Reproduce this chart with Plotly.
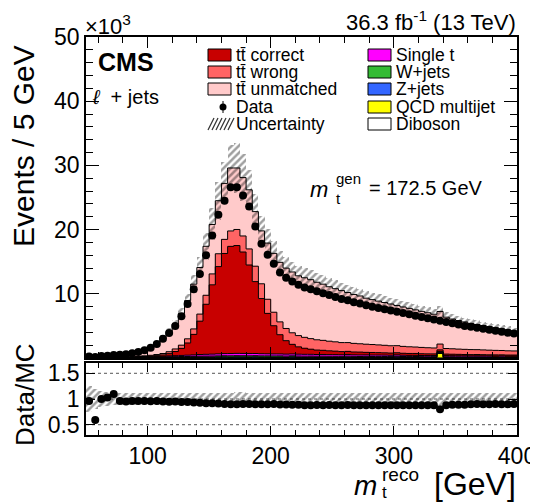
import math
import plotly.graph_objects as go

# ---------------- data (thousands of events per 5 GeV bin, 50-400 GeV) ----------------
bin_low = 50
bin_width = 5
n_bins = 70

data = [0.25, 0.16, 0.3, 0.35, 0.45, 0.5, 0.6, 0.75, 0.95, 1.2,
        1.6, 2.2, 3.0, 3.9, 5.0, 6.5, 8.4, 10.7, 13.1, 16.0,
        19.1, 22.3, 24.5, 26.6, 26.6, 25.3, 23.6, 20.5, 17.8, 16.1,
        14.7, 13.3, 12.5, 11.9, 11.4, 11.0, 10.7, 10.4, 10.1, 9.8,
        9.5, 9.2, 9.0, 8.7, 8.5, 8.2, 8.0, 7.8, 7.6, 7.4,
        7.2, 7.0, 6.8, 6.6, 6.4, 6.2, 6.0, 5.8, 5.6, 5.4,
        5.2, 5.0, 4.85, 4.7, 4.55, 4.4, 4.25, 4.1, 3.95, 3.8]

tt_correct = [0, 0, 0, 0, 0, 0, 0.01, 0.02, 0.03, 0.05,
              0.08, 0.12, 0.2, 0.35, 0.65, 1.1, 1.9, 3.2, 5.2, 7.8,
              10.8, 13.6, 15.6, 16.7, 16.8, 15.8, 13.8, 11.2, 8.6, 6.3,
              4.4, 3.0, 2.1, 1.5, 1.15, 0.95, 0.8, 0.7, 0.65, 0.6,
              0.55, 0.5, 0.5, 0.45, 0.45, 0.4, 0.4, 0.38, 0.36, 0.35,
              0.33, 0.32, 0.3, 0.3, 0.28, 0.27, 0.26, 0.25, 0.24, 0.23,
              0.22, 0.21, 0.2, 0.2, 0.19, 0.18, 0.18, 0.17, 0.16, 0.16]

tt_wrong = [0, 0, 0, 0.01, 0.01, 0.02, 0.03, 0.05, 0.07, 0.1,
            0.13, 0.17, 0.22, 0.3, 0.4, 0.5, 0.65, 0.85, 1.1, 1.4,
            1.7, 2.0, 2.2, 2.4, 2.5, 2.5, 2.5, 2.4, 2.3, 2.2,
            2.1, 2.0, 1.9, 1.8, 1.75, 1.7, 1.65, 1.6, 1.55, 1.5,
            1.45, 1.4, 1.37, 1.34, 1.3, 1.27, 1.24, 1.2, 1.17, 1.14,
            1.1, 1.07, 1.04, 1.0, 0.98, 0.95, 0.92, 0.9, 0.87, 0.85,
            0.82, 0.8, 0.78, 0.76, 0.74, 0.72, 0.7, 0.68, 0.66, 0.64]

tt_unmatched = [0.23, 0.24, 0.26, 0.27, 0.33, 0.41, 0.49, 0.59, 0.74, 0.91,
                1.25, 1.75, 2.46, 3.13, 3.85, 4.91, 5.95, 6.97, 7.26, 7.63,
                7.7, 8.26, 8.72, 9.81, 9.58, 9.09, 9.21, 8.5, 8.24, 8.75,
                9.17, 9.27, 9.4, 9.47, 9.31, 9.28, 9.18, 8.96, 8.75, 8.48,
                8.28, 8.1, 7.8, 7.62, 7.44, 7.17, 6.99, 6.82, 6.66, 6.5,
                6.26, 6.14, 5.98, 5.79, 5.62, 5.45, 5.26, 5.08, 4.88, 4.63,
                4.45, 4.27, 4.08, 3.92, 3.8, 3.67, 3.53, 3.39, 3.27, 3.12]

single_t = [0.01, 0.01, 0.01, 0.02, 0.02, 0.03, 0.03, 0.04, 0.05, 0.06,
            0.07, 0.09, 0.11, 0.13, 0.15, 0.17, 0.2, 0.22, 0.25, 0.27,
            0.29, 0.31, 0.33, 0.35, 0.36, 0.36, 0.35, 0.34, 0.33, 0.32,
            0.31, 0.3, 0.3, 0.29, 0.28, 0.28, 0.27, 0.26, 0.26, 0.25,
            0.25, 0.24, 0.24, 0.23, 0.23, 0.22, 0.22, 0.21, 0.21, 0.2,
            0.2, 0.19, 0.19, 0.18, 0.18, 0.18, 0.17, 0.17, 0.17, 0.16,
            0.16, 0.16, 0.15, 0.15, 0.15, 0.14, 0.14, 0.14, 0.13, 0.13]

w_jets = [0.01, 0.01, 0.01, 0.02, 0.02, 0.02, 0.03, 0.03, 0.04, 0.05,
          0.06, 0.07, 0.08, 0.09, 0.1, 0.11, 0.12, 0.13, 0.14, 0.15,
          0.16, 0.17, 0.18, 0.19, 0.19, 0.19, 0.19, 0.19, 0.18, 0.18,
          0.18, 0.18, 0.17, 0.17, 0.17, 0.17, 0.16, 0.16, 0.16, 0.16,
          0.15, 0.15, 0.15, 0.15, 0.14, 0.14, 0.14, 0.14, 0.14, 0.13,
          0.13, 0.13, 0.13, 0.13, 0.12, 0.12, 0.12, 0.12, 0.12, 0.12,
          0.11, 0.11, 0.11, 0.11, 0.11, 0.11, 0.1, 0.1, 0.1, 0.1]

z_jets = [0, 0, 0, 0, 0.01, 0.01, 0.01, 0.01, 0.01, 0.02,
          0.02, 0.02, 0.02, 0.03, 0.03, 0.03, 0.03, 0.03, 0.04, 0.04,
          0.04, 0.04, 0.04, 0.04, 0.04, 0.04, 0.04, 0.04, 0.04, 0.04,
          0.04, 0.04, 0.04, 0.04, 0.04, 0.03, 0.03, 0.03, 0.03, 0.03,
          0.03, 0.03, 0.03, 0.03, 0.03, 0.03, 0.03, 0.03, 0.03, 0.03,
          0.03, 0.03, 0.03, 0.03, 0.03, 0.02, 0.02, 0.02, 0.02, 0.02,
          0.02, 0.02, 0.02, 0.02, 0.02, 0.02, 0.02, 0.02, 0.02, 0.02]

qcd = [0.01, 0.01, 0.02, 0.02, 0.02, 0.03, 0.03, 0.04, 0.04, 0.05,
       0.05, 0.06, 0.06, 0.07, 0.07, 0.08, 0.08, 0.09, 0.1, 0.1,
       0.1, 0.11, 0.12, 0.1, 0.12, 0.11, 0.1, 0.12, 0.1, 0.1,
       0.09, 0.1, 0.08, 0.12, 0.09, 0.08, 0.1, 0.08, 0.09, 0.07,
       0.08, 0.07, 0.1, 0.07, 0.06, 0.08, 0.06, 0.07, 0.06, 0.05,
       0.12, 0.06, 0.05, 0.06, 0.05, 0.05, 0.06, 0.7, 0.05, 0.05,
       0.05, 0.04, 0.04, 0.05, 0.04, 0.04, 0.04, 0.05, 0.04, 0.04]

diboson = [0, 0, 0, 0, 0, 0, 0, 0, 0.01, 0.01,
           0.01, 0.01, 0.01, 0.01, 0.01, 0.01, 0.01, 0.01, 0.01, 0.01,
           0.01, 0.01, 0.01, 0.01, 0.01, 0.01, 0.01, 0.01, 0.01, 0.01,
           0.01, 0.01, 0.01, 0.01, 0.01, 0.01, 0.01, 0.01, 0.01, 0.01,
           0.01, 0.01, 0.01, 0.01, 0.01, 0.01, 0.01, 0.01, 0.01, 0.01,
           0.01, 0.01, 0.01, 0.01, 0.01, 0.01, 0.01, 0.01, 0.01, 0.01,
           0.01, 0.01, 0.01, 0.01, 0.01, 0.01, 0.01, 0.01, 0.01, 0.01]

# relative MC uncertainty per bin
mc_unc = [0.25, 0.2, 0.15, 0.13, 0.12, 0.12, 0.12, 0.12, 0.12, 0.12,
          0.12, 0.12, 0.12, 0.12, 0.12, 0.12, 0.12, 0.12, 0.12, 0.12,
          0.12, 0.12, 0.12, 0.12, 0.13, 0.13, 0.12, 0.12, 0.12, 0.12,
          0.12, 0.12, 0.12, 0.12, 0.12, 0.12, 0.12, 0.12, 0.12, 0.12,
          0.12, 0.12, 0.12, 0.12, 0.12, 0.12, 0.12, 0.12, 0.12, 0.12,
          0.12, 0.12, 0.12, 0.12, 0.12, 0.12, 0.12, 0.12, 0.12, 0.12,
          0.12, 0.12, 0.12, 0.12, 0.12, 0.12, 0.12, 0.12, 0.12, 0.12]

x_ticks = [100, 200, 300, 400]
y_ticks = [10, 20, 30, 40, 50]
r_ticks = [0.5, 1, 1.5]

# stack order bottom -> top
stack = [
    ("Diboson", diboson, "#ffffff"),
    ("QCD multijet", qcd, "#ffff00"),
    ("Z+jets", z_jets, "#3366ff"),
    ("W+jets", w_jets, "#33bb33"),
    ("Single t", single_t, "#ff00ff"),
    ("tt\u0304 correct", tt_correct, "#c80000"),
    ("tt\u0304 wrong", tt_wrong, "#ff6464"),
    ("tt\u0304 unmatched", tt_unmatched, "#ffcaca"),
]

centers = [bin_low + bin_width * (i + 0.5) for i in range(n_bins)]
edges = [bin_low + bin_width * i for i in range(n_bins + 1)]

FONT = "Liberation Sans, Arial, Helvetica, sans-serif"
fig = go.Figure()

cum = [0.0] * n_bins
levels = []
for name, vals, col in stack:
    fig.add_trace(go.Bar(x=centers, y=vals, base=cum[:], width=bin_width,
                         marker=dict(color=col, line=dict(width=0)),
                         name=name, showlegend=False, xaxis="x", yaxis="y"))
    cum = [c + v for c, v in zip(cum, vals)]
    levels.append(cum[:])

# outlines of each histogram (step lines)
for lev in levels:
    fig.add_trace(go.Scatter(x=edges, y=lev + [lev[-1]], mode="lines",
                             line=dict(color="black", width=1, shape="hv"),
                             showlegend=False, hoverinfo="skip", xaxis="x", yaxis="y"))

mc_total = levels[-1]
pattern = dict(shape="/", fgcolor="rgba(0,0,0,1)", bgcolor="rgba(0,0,0,0)",
               size=5, solidity=0.5, fillmode="overlay")
fig.add_trace(go.Bar(x=centers, y=[2 * m * u for m, u in zip(mc_total, mc_unc)],
                     base=[m * (1 - u) for m, u in zip(mc_total, mc_unc)], width=bin_width,
                     marker=dict(color="rgba(0,0,0,0)", line=dict(width=0), pattern=pattern),
                     opacity=0.75, name="Uncertainty", showlegend=False, xaxis="x", yaxis="y"))

fig.add_trace(go.Scatter(x=centers, y=data, mode="markers",
                         marker=dict(color="black", size=8),
                         error_y=dict(type="data", array=[math.sqrt(d * 1000) / 1000 for d in data],
                                      color="black", thickness=1, width=0),
                         name="Data", showlegend=False, xaxis="x", yaxis="y"))

# ratio panel
ratio = [d / m for d, m in zip(data, mc_total)]
ratio_err = [math.sqrt(d * 1000) / (m * 1000) for d, m in zip(data, mc_total)]
fig.add_trace(go.Bar(x=centers, y=[2 * u for u in mc_unc], base=[1 - u for u in mc_unc],
                     width=bin_width,
                     marker=dict(color="rgba(0,0,0,0)", line=dict(width=0), pattern=pattern),
                     opacity=0.75, showlegend=False, xaxis="x2", yaxis="y2"))
fig.add_trace(go.Scatter(x=centers, y=ratio, mode="markers",
                         marker=dict(color="black", size=8),
                         error_y=dict(type="data", array=ratio_err, color="black", thickness=1, width=0),
                         showlegend=False, xaxis="x2", yaxis="y2"))

for lvl in r_ticks:
    fig.add_shape(type="line", xref="x2", yref="y2", x0=bin_low, x1=400, y0=lvl, y1=lvl,
                  line=dict(color="#555555", width=1, dash="dot"), layer="below")

# ---------------- layout ----------------
# target pixel positions of the plot frame in the 538x502 window
L, R, T, B = 86, 517, 37, 435
OFF = 8                      # page body margin of the html page
W, H = 538 - OFF, 502 - OFF  # figure size so that it ends at the window edge


def px_x(px):
    return (px - L) / (R - L)


def px_y(py):
    return (B - py) / (B - T)


axis_common = dict(showline=True, linecolor="black", linewidth=1.5, mirror="ticks",
                   ticks="inside", tickcolor="black", showgrid=False, zeroline=False,
                   tickfont=dict(family=FONT, size=23, color="black"))

fig.update_layout(
    width=W, height=H,
    margin=dict(l=L - OFF, r=W - (R - OFF), t=T - OFF, b=H - (B - OFF), pad=0,
                autoexpand=False),
    paper_bgcolor="white", plot_bgcolor="white",
    barmode="overlay", bargap=0,
    showlegend=False,
    font=dict(family=FONT, color="black"),
    xaxis=dict(domain=[0, 1], range=[50, 400], anchor="y", showticklabels=False,
               tickmode="array", tickvals=x_ticks, ticklen=11,
               minor=dict(tickmode="linear", tick0=0, dtick=20, ticklen=6, ticks="inside",
                          tickcolor="black"),
               **axis_common),
    yaxis=dict(domain=[px_y(358), 1], range=[0, 50], anchor="x",
               tickmode="array", tickvals=y_ticks, ticklen=13,
               minor=dict(tickmode="linear", tick0=0, dtick=2, ticklen=7, ticks="inside",
                          tickcolor="black"),
               **axis_common),
    xaxis2=dict(domain=[0, 1], range=[50, 400], anchor="y2", matches="x",
                tickmode="array", tickvals=x_ticks, ticklen=9,
                minor=dict(tickmode="linear", tick0=0, dtick=20, ticklen=5, ticks="inside",
                           tickcolor="black"),
                **axis_common),
    yaxis2=dict(domain=[0, px_y(363)], range=[0.3, 1.7], anchor="x2",
                tickmode="array", tickvals=r_ticks, ticktext=["0.5", "1", "1.5"], ticklen=9,
                **axis_common),
)

ann = []


def text(s, px, py, size, xanchor="left", yanchor="middle", angle=0):
    ann.append(dict(text=s, x=px_x(px), y=px_y(py), xref="paper", yref="paper",
                    xanchor=xanchor, yanchor=yanchor, showarrow=False, textangle=angle,
                    font=dict(family=FONT, size=size, color="black")))


text("\u00d710<sup>3</sup>", 83, 25, 22)
text("36.3 fb<sup>-1</sup> (13 TeV)", 518, 21, 22, xanchor="right")
text("<b>CMS</b>", 96, 62, 25)
text("<i>\u2113</i>  + jets", 90, 97, 20)
text("<i>m</i>", 330, 189, 22, xanchor="right")
text("gen", 334, 178, 15)
text("t", 334, 198, 15)
text("= 172.5 GeV", 367, 188, 20)
text("Events / 5 GeV", 23, 146, 30, xanchor="center", angle=-90)
text("Data/MC", 25, 395, 26, xanchor="center", angle=-90)
text("<i>m</i>", 379, 485, 28, xanchor="right")
text("reco", 380, 474, 19)
text("t", 380, 492, 17)
text("[GeV]", 518, 484, 32, xanchor="right")

# ---------------- manual two-column legend ----------------
leg_rows = [55, 72, 89, 107, 124]
col1 = [("tt\u0304 correct", "#c80000"), ("tt\u0304 wrong", "#ff6464"),
        ("tt\u0304 unmatched", "#ffcaca")]
col2 = [("Single t", "#ff00ff"), ("W+jets", "#33bb33"), ("Z+jets", "#3366ff"),
        ("QCD multijet", "#ffff00"), ("Diboson", "#ffffff")]
LEG_FONT = 17.5


def legbox(x0, yc, col):
    fig.add_shape(type="rect", xref="paper", yref="paper",
                  x0=px_x(x0), x1=px_x(x0 + 23), y0=px_y(yc + 6), y1=px_y(yc - 6),
                  fillcolor=col, line=dict(color="black", width=1))


for (lab, col), yc in zip(col1, leg_rows[:3]):
    legbox(208, yc, col)
    text(lab, 234, yc, LEG_FONT)
for (lab, col), yc in zip(col2, leg_rows):
    legbox(368, yc, col)
    text(lab, 394, yc, LEG_FONT)

# Data entry
yc = leg_rows[3]
fig.add_shape(type="circle", xref="paper", yref="paper",
              x0=px_x(219.5), x1=px_x(226.5), y0=px_y(yc + 3.5), y1=px_y(yc - 3.5),
              fillcolor="black", line=dict(color="black", width=0))
fig.add_shape(type="line", xref="paper", yref="paper",
              x0=px_x(223), x1=px_x(223), y0=px_y(yc + 6), y1=px_y(yc - 6),
              line=dict(color="black", width=1))
text("Data", 234, yc, LEG_FONT)

# Uncertainty entry (hatched box)
yc = leg_rows[4]
for k in range(0, 24, 4):
    fig.add_shape(type="line", xref="paper", yref="paper",
                  x0=px_x(208 + k), x1=px_x(208 + k + 6), y0=px_y(yc + 6), y1=px_y(yc - 6),
                  line=dict(color="#333333", width=1.2))
text("Uncertainty", 234, yc, LEG_FONT)

fig.update_layout(annotations=ann)
fig.write_html("out.html")
